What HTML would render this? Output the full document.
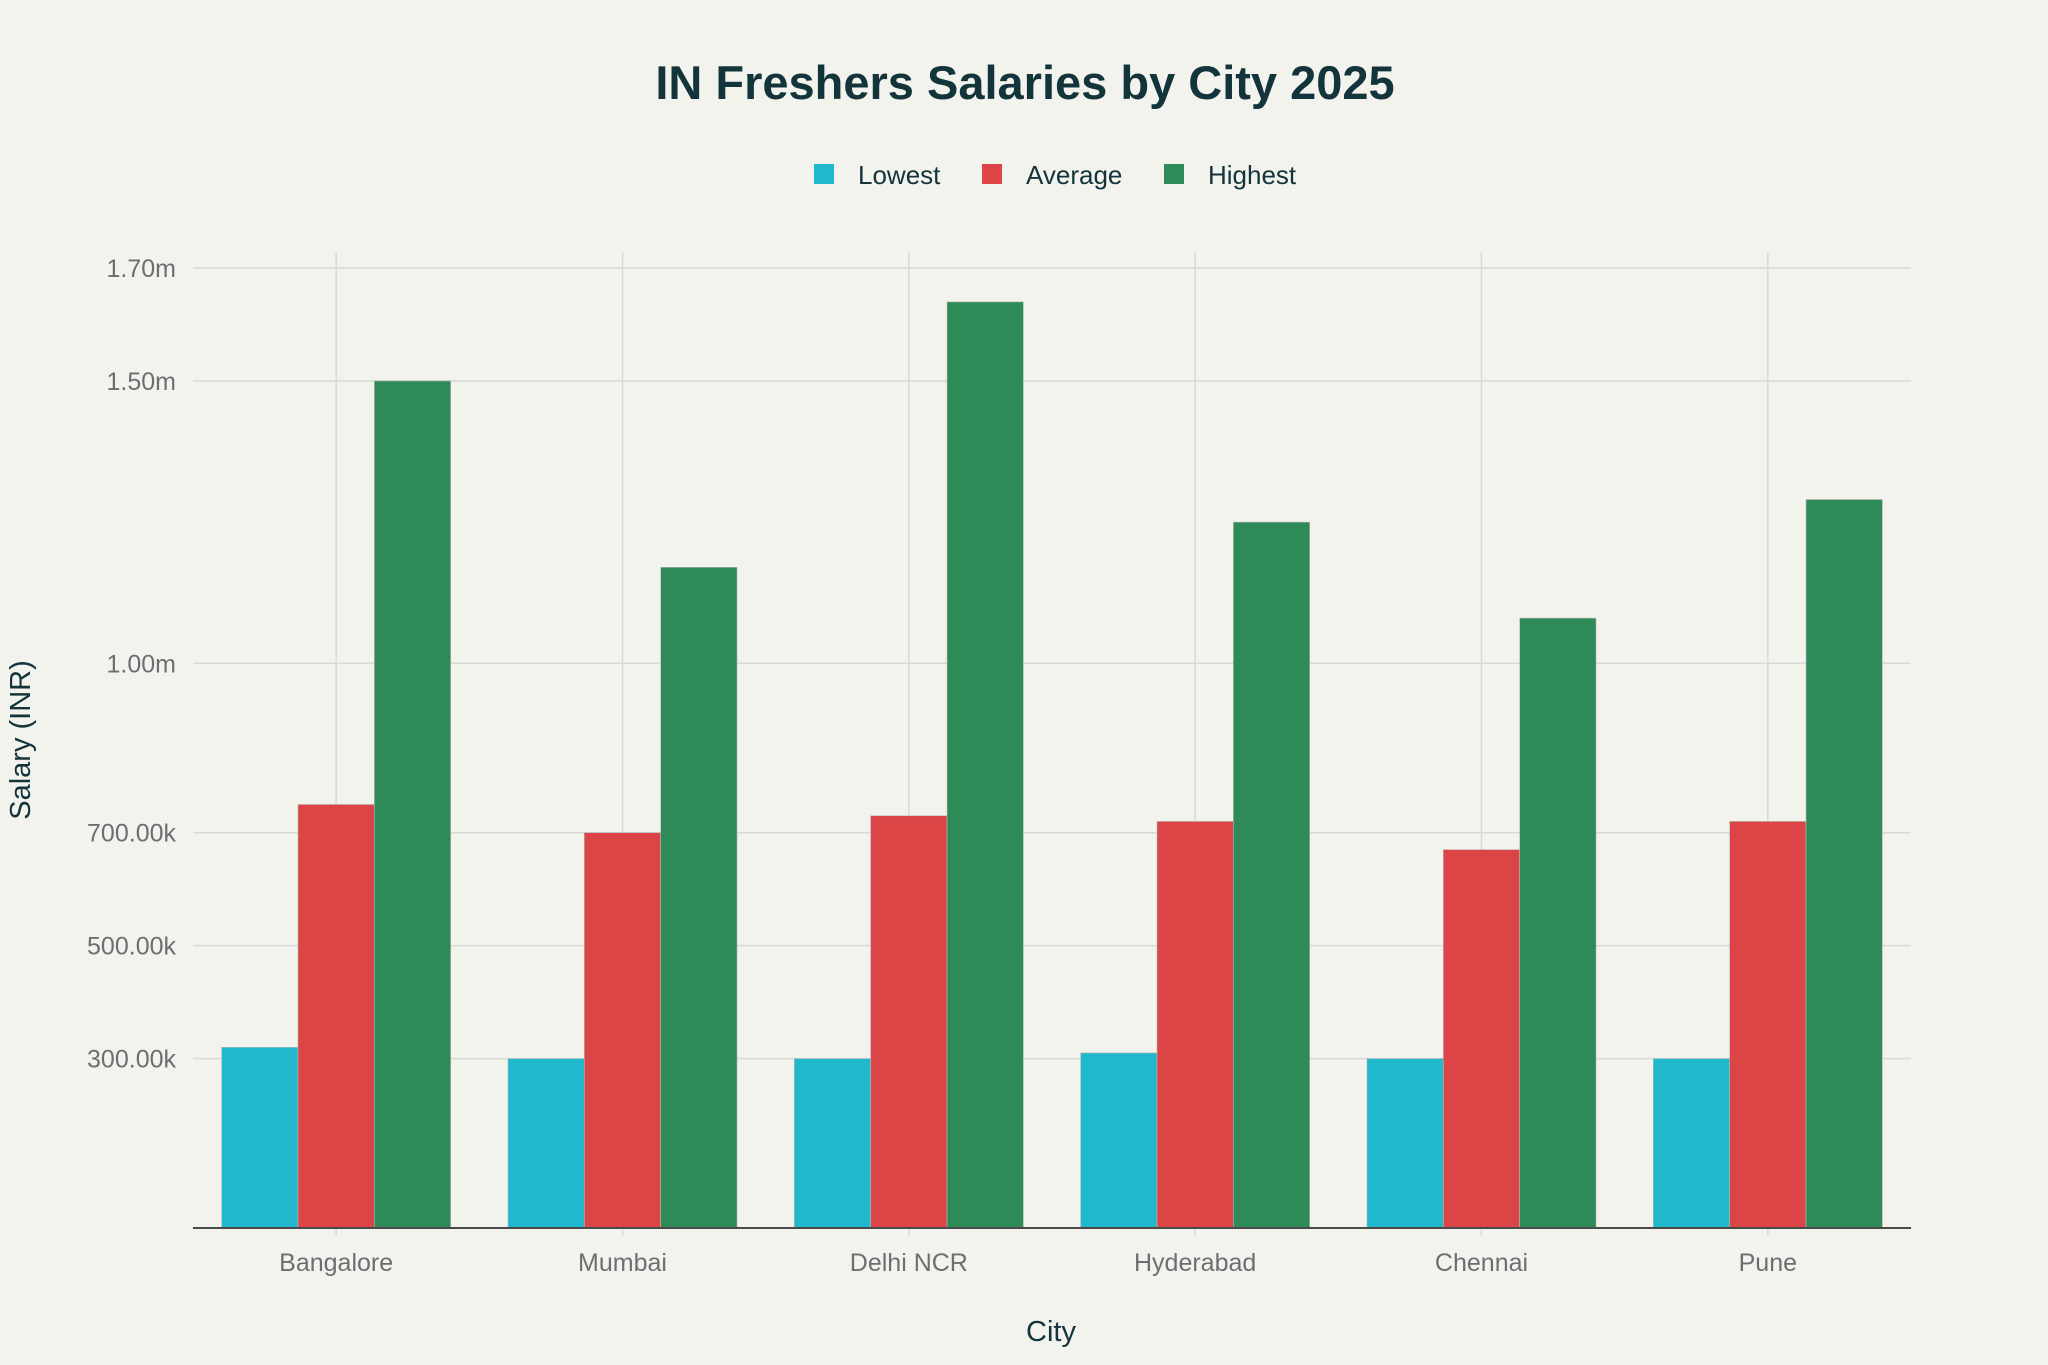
<!DOCTYPE html>
<html><head><meta charset="utf-8"><style>
html,body{margin:0;padding:0;background:#f3f3ee;}
svg{display:block;font-family:"Liberation Sans",sans-serif;}
</style></head><body>
<svg id="chart" width="2048" height="1365" viewBox="0 0 2048 1365">
<rect width="2048" height="1365" fill="#f3f3ee"/>
<text x="1025" y="99" text-anchor="middle" font-size="47" font-weight="bold" fill="#13343b">IN Freshers Salaries by City 2025</text>
<g id="legend"></g>
<g id="grid"></g>
<g id="bars"></g>
<g id="axes"></g>
<text x="1051" y="1341" text-anchor="middle" font-size="29" fill="#13343b">City</text>
<text transform="translate(30,740) rotate(-90)" text-anchor="middle" font-size="29" fill="#13343b">Salary (INR)</text>
</svg>
<script>
const categories = ["Bangalore","Mumbai","Delhi NCR","Hyderabad","Chennai","Pune"];
const seriesNames = ["Lowest","Average","Highest"];
const lowest = [320000,300000,300000,310000,300000,300000];
const average = [750000,700000,730000,720000,670000,720000];
const highest = [1500000,1170000,1640000,1250000,1080000,1290000];
const yTicks = [300000,500000,700000,1000000,1500000,1700000];
const yTickLabels = ["300.00k","500.00k","700.00k","1.00m","1.50m","1.70m"];
const colors = ["#1fb8cd","#db4545","#2e8b57"];
const NS="http://www.w3.org/2000/svg";
const X0=193,X1=1911,Y0=1228,Ytop=268,YMAX=1700000;
const y=v=>Y0-(v/YMAX)*(Y0-Ytop);
const band=(X1-X0)/categories.length;
const xc=i=>X0+band*(i+0.5);
function mk(tag,attrs,parent){const e=document.createElementNS(NS,tag);for(const k in attrs)e.setAttribute(k,attrs[k]);parent.appendChild(e);return e;}
const grid=document.getElementById('grid'),bars=document.getElementById('bars'),axes=document.getElementById('axes'),legend=document.getElementById('legend');
yTicks.forEach((t,i)=>{
 const l=mk('line',{x1:X0,x2:X1,y1:y(t),y2:y(t),stroke:"#d8d8d4","stroke-width":1.5},grid);
 
 
 const tx=mk('text',{x:176,y:y(t)+9,"text-anchor":"end","font-size":25,fill:"#6b6f72"},axes);
 tx.textContent=yTickLabels[i];
 
 
});
categories.forEach((c,i)=>{
 const l=mk('line',{x1:xc(i),x2:xc(i),y1:252,y2:Y0+8,stroke:"#d8d8d4","stroke-width":1.5},grid);
 
 
 const tx=mk('text',{x:xc(i),y:1271,"text-anchor":"middle","font-size":25,fill:"#6b6f72"},axes);
 tx.textContent=c;
 
 
});
const series=[lowest,average,highest];
const groupW=band*0.8,bw=groupW/3;
series.forEach((s,k)=>{
 s.forEach((v,i)=>{
  const x=xc(i)-groupW/2+k*bw;
  const r=mk('rect',{x:x,y:y(v),width:bw,height:Y0-y(v),fill:colors[k],stroke:"#b8b8b8","stroke-width":0.6},bars);
  
  
 });
});
const base=mk('line',{x1:X0,x2:X1,y1:Y0,y2:Y0,stroke:"#4a4a4a","stroke-width":2},axes);


const legX=[814,982,1164];
seriesNames.forEach((n,k)=>{
 const r=mk('rect',{x:legX[k],y:164,width:20,height:20,fill:colors[k]},legend);
 
 
 const t=mk('text',{x:legX[k]+44,y:184,"font-size":26,fill:"#13343b"},legend);
 t.textContent=n;
 
 
});
</script>
</body></html>
